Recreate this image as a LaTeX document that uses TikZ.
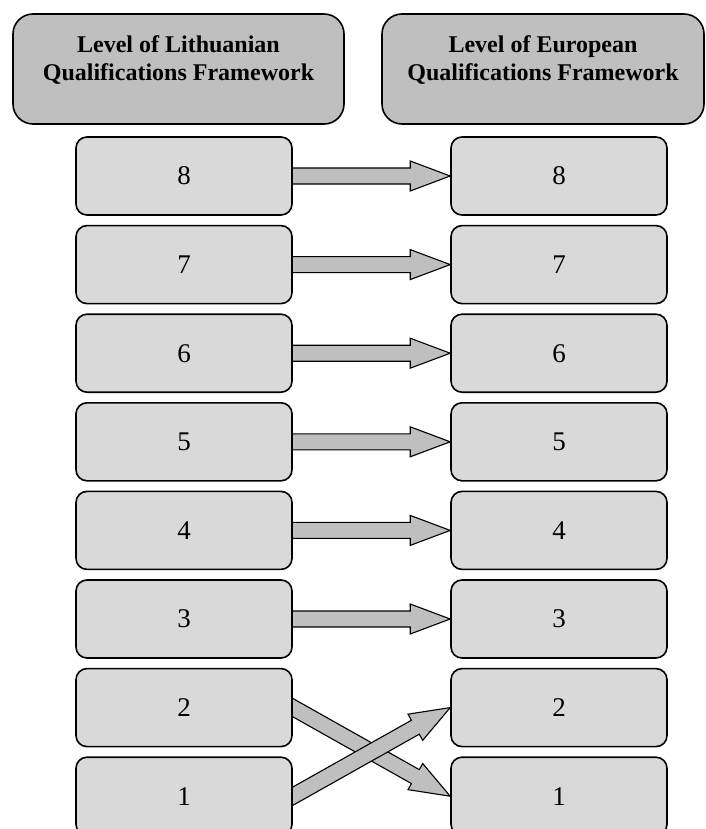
\documentclass[tikz,border=0pt]{standalone}
\usepackage{fontspec}
\setmainfont{Liberation Serif}
\usetikzlibrary{calc}
\definecolor{headgray}{gray}{0.75}
\definecolor{boxgray}{gray}{0.85}
\pgfdeclarelayer{back}
\pgfsetlayers{back,main}
\tikzset{
  head/.style={draw,line width=1.6pt,fill=headgray,rounded corners=20pt,
    minimum height=110pt,align=center,text depth=21pt,
    font=\bfseries\fontsize{24}{28}\selectfont},
  level/.style={draw,line width=1.6pt,fill=boxgray,rounded corners=11pt,
    minimum width=216pt,minimum height=78pt,font=\fontsize{27}{32}\selectfont},
  arrowbody/.style={draw,line width=1.1pt,fill=headgray,line join=miter}
}
% block arrow from #1 to #2, its tail hidden under the box
\newcommand{\levelarrow}[2]{%
  \coordinate (h) at ($(#2)!40pt!(#1)$);
  \coordinate (t) at ($(#1)!-12pt!(#2)$);
  \begin{pgfonlayer}{back}
  \draw[arrowbody] ($(t)!8pt!90:(#2)$) -- ($(h)!8pt!90:(#2)$)
    -- ($(h)!15pt!90:(#2)$) -- (#2) -- ($(h)!15pt!-90:(#2)$)
    -- ($(h)!8pt!-90:(#2)$) -- ($(t)!8pt!-90:(#2)$) -- cycle;
  \end{pgfonlayer}
}
\begin{document}
\begin{tikzpicture}[x=1pt,y=-1pt]
	\useasboundingbox (0,0) rectangle (705,829);
	\clip (0,0) rectangle (705,829);
	\node[head,minimum width=331pt] (lt) at (178.5,69) {Level of Lithuanian\\Qualifications Framework};
	\node[head,minimum width=322pt] (eu) at (543,69) {Level of European\\Qualifications Framework};
	\foreach \n in {1,...,8} {
		\node[level] (l\n) at (184,{176+(8-\n)*88.6}) {\n};
		\node[level] (e\n) at (559,{176+(8-\n)*88.6}) {\n};
	}
	\foreach \n in {3,...,8}
		\levelarrow{l\n.east}{e\n.west};
	% levels 1 and 2 are swapped
	\levelarrow{l2.east}{e1.west}
	\levelarrow{l1.east}{e2.west}
\end{tikzpicture}
\end{document}
